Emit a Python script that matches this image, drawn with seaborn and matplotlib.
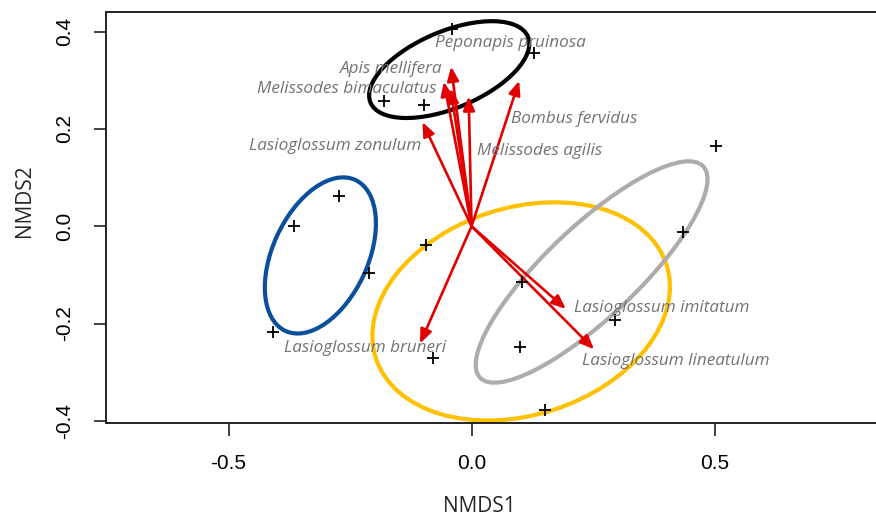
import numpy as np
import pandas as pd
import matplotlib
matplotlib.use("Agg")
import matplotlib.pyplot as plt
from matplotlib.patches import Ellipse
import seaborn as sns

# ---- data ----
site_nmds1 = [-0.041, 0.128, -0.180, -0.098, -0.273, -0.365, -0.094, -0.211,
              -0.408, -0.079, 0.099, 0.103, 0.151, 0.295, 0.435, 0.502]
site_nmds2 = [0.406, 0.357, 0.257, 0.250, 0.063, 0.000, -0.038, -0.096,
              -0.218, -0.271, -0.249, -0.115, -0.378, -0.192, -0.011, 0.165]

species = ["Peponapis pruinosa", "Apis mellifera", "Melissodes bimaculatus",
           "Melissodes agilis", "Bombus fervidus", "Lasioglossum zonulum",
           "Lasioglossum bruneri", "Lasioglossum imitatum", "Lasioglossum lineatulum"]
arrow_x = [-0.042, -0.057, -0.043, -0.006, 0.098, -0.101, -0.106, 0.194, 0.252]
arrow_y = [0.328, 0.297, 0.283, 0.267, 0.299, 0.214, -0.241, -0.170, -0.253]
label_x = [0.079, -0.166, -0.257, 0.140, 0.212, -0.280, -0.220, 0.391, 0.420]
label_y = [0.377, 0.323, 0.283, 0.155, 0.221, 0.164, -0.250, -0.169, -0.277]

# group dispersion ellipses: centre, semi-axes, rotation (deg)
ell_cx = [-0.046, -0.311, 0.102, 0.247]
ell_cy = [0.322, -0.060, -0.175, -0.094]
ell_a = [0.1755, 0.171, 0.314, 0.316]
ell_b = [0.079, 0.0978, 0.213, 0.0937]
ell_angle = [22.7, 65.1, 17.7, 43.4]
ell_color = ["#000000", "#0B4F9C", "#FFC000", "#AFABAB"]

sites = pd.DataFrame({"NMDS1": site_nmds1, "NMDS2": site_nmds2})

# ---- figure ----
sns.set_style("white")
plt.rcParams["font.family"] = ["Liberation Sans", "DejaVu Sans"]

fig = plt.figure(figsize=(8.76, 5.18), dpi=100)
ax = fig.add_axes([106 / 876, 1 - 423.3 / 518, 1 - 106 / 876, (423.3 - 11.7) / 518])

for cx, cy, a, b, ang, col in zip(ell_cx, ell_cy, ell_a, ell_b, ell_angle, ell_color):
    ax.add_patch(Ellipse((cx, cy), 2 * a, 2 * b, angle=ang, fill=False,
                         edgecolor=col, linewidth=3.0, zorder=2))

sns.scatterplot(data=sites, x="NMDS1", y="NMDS2", marker="+", s=70,
                color="black", linewidth=1.3, ax=ax, zorder=4)

for x, y in zip(arrow_x, arrow_y):
    ax.annotate("", xy=(x, y), xytext=(0, 0),
                arrowprops=dict(arrowstyle="-|>,head_length=0.6,head_width=0.25",
                                color="#E00000", lw=1.9, shrinkA=0, shrinkB=0,
                                mutation_scale=14),
                zorder=3)

for name, x, y in zip(species, label_x, label_y):
    ax.text(x, y, name, ha="center", va="center", fontsize=12.3,
            style="italic", color="#737373", family=["Open Sans", "DejaVu Sans"],
            zorder=5)

ax.set_xlim(-0.752, 0.832)
ax.set_ylim(-0.405, 0.441)
ax.set_xticks([-0.5, 0.0, 0.5])
ax.set_yticks([-0.4, -0.2, 0.0, 0.2, 0.4])
ax.set_xticklabels(["-0.5", "0.0", "0.5"])
ax.set_yticklabels(["-0.4", "-0.2", "0.0", "0.2", "0.4"], rotation=90, va="center")

ax.tick_params(axis="both", direction="out", length=9, width=1.2, color="#222222",
               labelsize=15, labelcolor="black", left=True, bottom=True)
ax.tick_params(axis="x", pad=13)
ax.tick_params(axis="y", pad=14)

for side in ["left", "top", "bottom"]:
    ax.spines[side].set_visible(True)
    ax.spines[side].set_color("#222222")
    ax.spines[side].set_linewidth(1.4)
ax.spines["right"].set_visible(False)

ax.set_xlabel("NMDS1", fontsize=15, family=["Open Sans", "DejaVu Sans"])
ax.set_ylabel("NMDS2", fontsize=15, family=["Open Sans", "DejaVu Sans"])
ax.xaxis.set_label_coords((479 - 106) / 770, -(506 - 423.3) / 411.6)
ax.yaxis.set_label_coords(-(106 - 24) / 770, (423.3 - 201) / 411.6)
ax.xaxis.label.set_va("center")
ax.yaxis.label.set_va("center")

fig.savefig("out.png", dpi=100)
